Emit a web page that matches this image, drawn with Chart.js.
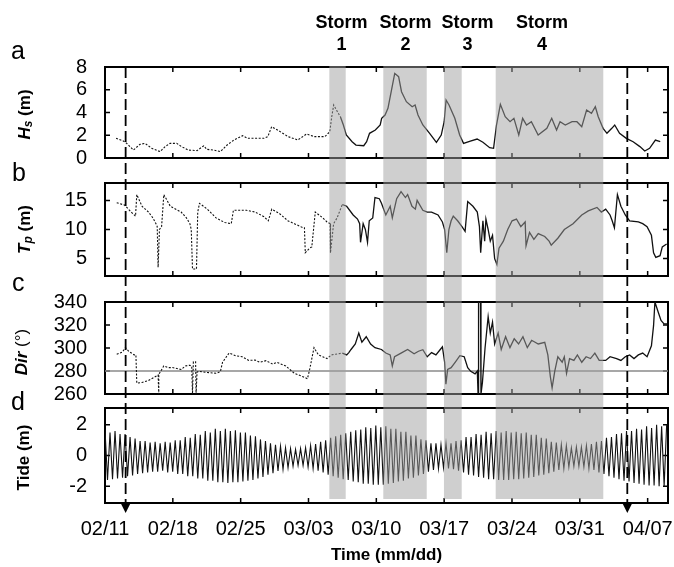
<!DOCTYPE html>
<html>
<head>
<meta charset="utf-8">
<script src="https://cdn.jsdelivr.net/npm/chart.js@4.4.1/dist/chart.umd.min.js"></script>
<style>
  html, body { margin: 0; padding: 0; background: #fff; }
  #waves { display: block; }
</style>
</head>
<body>
<canvas id="waves" width="674" height="567"></canvas>
<script>
// Wave, period, direction and tide record, 02/11 - 04/08 (time in days from 02/11)

const weekTicks = [0, 7, 14, 21, 28, 35, 42, 49, 56];
const weekLabels = ['02/11', '02/18', '02/25', '03/03', '03/10', '03/17', '03/24', '03/31', '04/07'];

const stormNames = ['1', '2', '3', '4'];
const stormStart = [23.15, 28.72, 34.98, 40.32];
const stormEnd = [24.84, 33.20, 36.81, 51.42];
const stormLabelAt = [24.4, 31.0, 37.4, 45.1];

const markerDays = [2.13, 53.9];     // dashed survey markers
const modelEnd = 24.5;               // dotted record before this day, measured after

const hsTicks = [0, 2, 4, 6, 8];
const tpTicks = [5, 10, 15];
const dirTicks = [260, 280, 300, 320, 340];
const tideTicks = [-2, 0, 2];
const dirReference = 280;

// significant wave height (m)
const hsTime = [1.14, 1.89, 2.24, 2.93, 3.61, 4.13, 4.82, 5.68, 6.2, 6.71, 7.4, 7.9, 8.6, 9.5, 10.2, 10.5,
  11.2, 11.9, 12.6, 13.3, 14.2, 14.7, 15.6, 16.4, 16.8, 17.2, 17.8, 18.9, 19.9, 20.8, 21.6, 22.7, 23.2,
  23.4, 23.6, 23.9, 24.3, 24.6, 24.9, 25.5, 25.9, 26.7, 27.0, 27.3, 27.9, 28.4, 28.55, 28.9, 29.2, 29.6,
  29.9, 30.3, 30.6, 31.1, 31.7, 32.0, 32.3, 32.8, 33.5, 34.2, 34.7, 35.0, 35.2, 35.5, 36.1, 36.6, 37.0,
  37.7, 38.4, 39.0, 39.7, 40.1, 40.4, 40.8, 41.3, 41.8, 42.2, 42.7, 43.1, 43.5, 44.0, 44.7, 45.6, 46.1,
  46.6, 46.96, 47.5, 48.2, 48.7, 49.2, 49.7, 50.2, 50.6, 50.9, 51.4, 51.8, 52.3, 52.6, 53.1, 53.8, 54.5,
  55.2, 55.7, 56.2, 56.8, 57.3];
const hsValue = [1.73, 1.49, 1.29, 0.7, 1.2, 1.29, 0.85, 0.56, 1.0, 1.29, 1.29, 1.0, 0.7, 0.65, 1.08, 0.76,
  0.7, 0.56, 1.14, 1.58, 1.96, 1.73, 1.73, 1.73, 1.88, 2.75, 2.46, 1.88, 1.58, 2.11, 1.88, 1.88, 2.31,
  3.63, 4.66, 4.2, 3.6, 2.9, 2.02, 1.43, 1.14, 1.08, 1.43, 2.17, 2.46, 2.9, 3.49, 3.78, 4.37, 6.12,
  7.44, 7.15, 5.83, 4.95, 4.51, 4.66, 3.78, 2.9, 2.17, 1.38, 2.02, 3.19, 5.1, 4.66, 3.49, 2.02, 1.29,
  1.49, 1.67, 1.38, 0.91, 0.85, 2.9, 4.72, 3.63, 3.19, 3.49, 2.02, 3.49, 2.9, 3.19, 2.02, 2.61, 3.49,
  2.46, 3.19, 2.9, 3.19, 3.19, 2.75, 4.22, 3.93, 4.51, 3.63, 2.61, 2.17, 2.61, 2.9, 2.17, 1.73, 1.43,
  1.0, 0.62, 0.85, 1.58, 1.43];

// peak period (s)
const tpTime = [1.21, 2.02, 2.7, 3.15, 3.28, 3.82, 4.49, 4.94, 5.26, 5.39, 5.48, 5.62, 5.84, 6.07, 6.74,
  7.86, 8.4, 8.76, 8.9, 9.03, 9.44, 9.57, 9.75, 10.56, 11.46, 12.36, 13.03, 13.25, 14.6, 15.5, 16.4,
  16.85, 17.21, 17.97, 18.87, 19.54, 20.44, 20.58, 20.67, 21.12, 21.34, 21.7, 22.47, 22.91, 23.23, 23.27,
  23.59, 23.95, 24.49, 24.94, 25.61, 26.06, 26.28, 26.37, 26.64, 26.87, 27.09, 27.27, 27.63, 27.86,
  28.31, 28.53, 28.98, 29.43, 29.65, 30.1, 30.55, 31.0, 31.23, 31.68, 32.03, 32.21, 32.8, 33.25, 33.7,
  34.37, 34.82, 35.05, 35.27, 35.49, 35.72, 35.94, 36.39, 36.84, 37.16, 37.43, 37.97, 38.42, 38.64,
  38.77, 39.0, 39.18, 39.31, 39.54, 39.76, 39.99, 40.21, 40.44, 40.66, 41.11, 41.56, 42.01, 42.46,
  42.91, 43.36, 43.45, 43.81, 44.26, 44.71, 45.38, 45.83, 46.05, 46.73, 47.4, 48.3, 49.2, 49.87, 50.77,
  51.22, 51.67, 52.12, 52.34, 52.57, 52.88, 53.24, 53.69, 54.14, 55.04, 55.49, 55.94, 56.39, 56.61,
  56.84, 57.28, 57.51, 57.96];
const tpValue = [14.6, 14.2, 13.0, 12.3, 16.0, 14.0, 13.0, 12.0, 11.0, 10.5, 3.5, 10.0, 10.5, 16.0, 14.0,
  13.0, 12.0, 11.0, 10.0, 3.2, 3.2, 13.0, 14.5, 13.5, 12.0, 11.2, 11.0, 13.3, 13.3, 13.0, 12.2,
  11.5, 13.5, 12.8, 11.5, 11.0, 10.3, 10.3, 6.0, 6.8, 7.0, 13.0, 12.0, 11.3, 11.0, 6.0,
  11.0, 12.0, 14.3, 14.0, 12.5, 11.8, 11.0, 7.8, 11.0, 10.0, 7.8, 11.5, 12.0, 15.5,
  15.3, 14.5, 12.5, 14.0, 12.0, 15.3, 16.5, 15.5, 16.0, 14.0, 13.5, 15.0, 13.3, 13.0, 13.0,
  12.5, 11.3, 10.0, 6.0, 10.0, 11.5, 12.3, 11.5, 10.5, 9.7, 14.8, 14.0, 13.0, 10.5,
  6.0, 11.5, 8.0, 11.8, 10.0, 8.0, 9.0, 5.0, 4.0, 6.8, 8.0, 10.0, 11.5, 11.8,
  10.5, 11.3, 7.2, 9.5, 8.3, 9.3, 8.8, 8.0, 7.3, 8.5, 10.0, 11.0, 12.5, 13.2, 13.8,
  13.0, 13.5, 12.5, 11.5, 10.3, 16.0, 14.0, 12.5, 11.5, 11.3, 11.0, 10.5, 9.0, 6.0,
  5.2, 5.5, 7.0, 7.5];

// mean wave direction (deg)
const dirTime = [1.21, 1.8, 2.11, 2.47, 3.01, 3.19, 3.28, 3.82, 4.49, 5.17, 5.48, 5.53, 5.57, 6.07, 6.51,
  6.96, 7.86, 8.31, 8.76, 8.95, 9.03, 9.12, 9.35, 9.4, 9.5, 9.66, 10.56, 11.46, 11.91, 12.13, 12.8,
  13.48, 14.15, 14.83, 15.5, 15.95, 16.62, 17.3, 17.75, 18.65, 19.54, 20.44, 20.89, 21.12, 21.57,
  22.02, 22.47, 22.91, 23.36, 23.81, 24.49, 24.94, 25.16, 25.39, 25.83, 26.19, 26.51, 26.96, 27.41,
  27.86, 28.53, 28.98, 29.43, 29.65, 29.88, 30.55, 31.23, 31.9, 32.35, 32.8, 33.25, 33.7, 34.15,
  34.6, 34.82, 35.05, 35.18, 35.36, 35.72, 36.17, 36.62, 37.07, 37.43, 37.74, 38.19, 38.42, 38.5,
  38.55, 38.75, 38.8, 38.95, 39.22, 39.54, 39.76, 39.99, 40.21, 40.57, 40.89, 41.34, 41.79, 42.23,
  42.68, 43.13, 43.58, 44.03, 44.71, 45.38, 45.7, 45.96, 46.14, 46.41, 46.73, 47.18, 47.4, 47.63,
  47.94, 48.39, 48.75, 49.2, 49.65, 50.1, 50.55, 51.0, 51.67, 52.12, 52.79, 53.24, 53.69, 54.14,
  54.59, 55.04, 55.49, 55.94, 56.39, 56.61, 56.75, 57.06, 57.38, 57.69, 58.0];
const dirValue = [294.6, 296.5, 300.3, 297, 294, 294, 269.5, 270, 271.7, 275, 276.5, 260, 277, 284.4, 282.9,
  283, 281.3, 284.4, 285, 284, 260, 288, 288, 260, 279, 279.7, 278.7, 278, 279.5, 287.6, 295.6,
  293.3, 292.4, 289.2, 289.5, 287.6, 289, 286, 287.5, 284.4, 278, 275, 273.3, 281.3, 300.3,
  294, 292.4, 290.8, 294, 294.6, 295.6, 294, 296, 298.7, 303.5, 313, 305, 309.8, 303.5,
  300.3, 298.7, 295.6, 294, 284.4, 292.4, 295.6, 298.7, 295, 297.2, 298.5, 292.4, 296, 294,
  298.7, 301, 287.6, 268.6, 281.3, 282.9, 288, 293.3, 292.4, 282.9, 279.7, 277.5, 280, 260,
  340, 340, 260, 270, 300, 327.3, 313, 322.5, 303.5, 313, 298.7, 309.8, 300.3, 308,
  303.5, 309.8, 300.3, 306.7, 303.5, 305, 294, 275, 265.4, 279.7, 292.4, 287.6, 292.4, 278,
  290.8, 289.2, 294, 287.6, 292.4, 290.8, 295.6, 289.2, 289.2, 292.4, 290.8, 289.2, 292.4, 294,
  290.8, 294, 295.6, 292.4, 301.9, 319.4, 340, 332, 324, 321, 321];

// tide: successive high and low waters (m), one tidal cycle apart
const tideStep = 0.5175;
const tideHigh = [1.7, 1.5, 1.6, 1.4, 1.4, 1.2, 1.1, 0.95, 0.95, 0.85,
  0.9, 0.8, 0.9, 0.85, 1.0, 1.0, 1.2, 1.15, 1.4, 1.35,
  1.6, 1.5, 1.75, 1.6, 1.75, 1.6, 1.65, 1.5, 1.5, 1.3,
  1.25, 1.05, 0.95, 0.8, 0.7, 0.6, 0.5, 0.45, 0.4, 0.45,
  0.5, 0.65, 0.75, 0.9, 1.0, 1.15, 1.25, 1.35, 1.45, 1.55,
  1.65, 1.7, 1.85, 1.8, 1.95, 1.85, 1.9, 1.75, 1.75, 1.55,
  1.55, 1.3, 1.3, 1.05, 1.0, 0.8, 0.8, 0.7, 0.8, 0.8,
  0.95, 1.0, 1.2, 1.2, 1.4, 1.35, 1.55, 1.45, 1.6, 1.5,
  1.6, 1.5, 1.55, 1.45, 1.5, 1.35, 1.35, 1.15, 1.1, 0.9,
  0.85, 0.7, 0.65, 0.5, 0.55, 0.55, 0.65, 0.75, 0.9, 0.95,
  1.15, 1.2, 1.4, 1.45, 1.6, 1.6, 1.75, 1.7, 1.9, 1.8,
  2.0, 1.9, 2.0];
const tideLow = [-1.6, -1.55, -1.5, -1.45, -1.35, -1.3, -1.2, -1.15, -1.1, -1.05,
  -1.05, -1.0, -1.1, -1.05, -1.2, -1.2, -1.35, -1.35, -1.5, -1.5,
  -1.65, -1.65, -1.75, -1.75, -1.8, -1.75, -1.75, -1.7, -1.65, -1.6,
  -1.5, -1.4, -1.25, -1.15, -1.0, -0.9, -0.8, -0.7, -0.65, -0.65,
  -0.75, -0.85, -1.0, -1.1, -1.25, -1.35, -1.45, -1.55, -1.6, -1.7,
  -1.75, -1.85, -1.85, -1.9, -1.9, -1.9, -1.85, -1.8, -1.7, -1.65,
  -1.5, -1.45, -1.3, -1.2, -1.05, -0.95, -0.85, -0.8, -0.85, -0.9,
  -1.0, -1.1, -1.25, -1.3, -1.4, -1.45, -1.55, -1.55, -1.6, -1.6,
  -1.6, -1.55, -1.55, -1.5, -1.45, -1.4, -1.3, -1.25, -1.15, -1.05,
  -0.95, -0.85, -0.75, -0.7, -0.7, -0.75, -0.85, -0.95, -1.1, -1.2,
  -1.35, -1.45, -1.55, -1.65, -1.7, -1.8, -1.85, -1.9, -1.95, -1.95,
  -2.0, -2.0];

const FONT = '"Liberation Sans", Arial, Helvetica, sans-serif';
Chart.defaults.font.family = FONT;
Chart.defaults.color = '#000';

function toPoints(times, values) {
  return times.map((t, i) => ({x: t, y: values[i]}));
}

const tidePoints = [];
tideHigh.forEach((h, i) => {
  tidePoints.push({x: i * tideStep, y: h});
  if (i < tideLow.length) tidePoints.push({x: (i + 0.5) * tideStep, y: tideLow[i]});
});

// dotted before the switch-over day, solid afterwards
const recordSegment = {
  borderDash: ctx => ctx.p1.parsed.x <= modelEnd ? [2, 1.6] : undefined,
  borderWidth: ctx => ctx.p1.parsed.x <= modelEnd ? 1.1 : 1.3
};

function panelAxis(min, max, ticks, weight) {
  return {
    type: 'linear',
    position: 'left',
    stack: 'panels',
    stackWeight: weight,
    min: min,
    max: max,
    afterBuildTicks: s => { s.ticks = ticks.map(v => ({value: v})); },
    afterFit: s => { s.width = 105; s.paddingTop = 0; s.paddingBottom = 0; },
    grid: {display: false, drawTicks: false},
    border: {display: false},
    ticks: {font: {size: 20}, color: '#000', padding: 18, autoSkip: false}
  };
}

function gapAxis(weight) {
  return {type: 'linear', position: 'left', stack: 'panels', stackWeight: weight, display: false};
}

const panelIds = ['yA', 'yB', 'yC', 'yD'];
const panelTicks = {yA: hsTicks, yB: tpTicks, yC: dirTicks, yD: tideTicks};

function drawVerticalTitle(ctx, parts, cx, cy) {
  ctx.save();
  ctx.translate(cx, cy);
  ctx.rotate(-Math.PI / 2);
  let total = 0;
  parts.forEach(p => { ctx.font = p.font; p.w = ctx.measureText(p.text).width; total += p.w; });
  let pos = -total / 2;
  ctx.textAlign = 'left';
  ctx.textBaseline = 'middle';
  ctx.fillStyle = '#000';
  parts.forEach(p => {
    ctx.font = p.font;
    ctx.fillText(p.text, pos, p.shift || 0);
    pos += p.w;
  });
  ctx.restore();
}

const decorations = {
  id: 'decorations',
  beforeDatasetsDraw(chart) {
    const {ctx, scales} = chart;
    const x = scales.x;
    ctx.save();
    ctx.strokeStyle = '#000';
    panelIds.forEach(id => {
      const y = scales[id];
      ctx.lineWidth = 2;
      ctx.strokeRect(x.left, y.top, x.right - x.left, y.bottom - y.top);
      ctx.lineWidth = 1.5;
      ctx.beginPath();
      weekTicks.forEach(t => {
        const px = x.getPixelForValue(t);
        ctx.moveTo(px, y.bottom); ctx.lineTo(px, y.bottom - 5);
        ctx.moveTo(px, y.top); ctx.lineTo(px, y.top + 5);
      });
      panelTicks[id].forEach(v => {
        const py = y.getPixelForValue(v);
        ctx.moveTo(x.left, py); ctx.lineTo(x.left + 5, py);
        ctx.moveTo(x.right, py); ctx.lineTo(x.right - 5, py);
      });
      ctx.stroke();
    });
    ctx.restore();
  },
  afterDatasetsDraw(chart) {
    const {ctx, scales: {x, yA, yD}} = chart;
    ctx.save();
    // storm windows, laid over every panel
    ctx.fillStyle = 'rgba(160, 160, 160, 0.5)';
    stormStart.forEach((s, i) => {
      const x0 = x.getPixelForValue(s);
      const x1 = x.getPixelForValue(stormEnd[i]);
      ctx.fillRect(x0, yA.top - 1, x1 - x0, yD.bottom - 4 - (yA.top - 1));
    });
    // dashed markers with arrow heads under the time axis
    ctx.strokeStyle = '#000';
    ctx.lineWidth = 1.8;
    ctx.setLineDash([11, 5]);
    markerDays.forEach(d => {
      const px = x.getPixelForValue(d);
      ctx.beginPath();
      ctx.moveTo(px, yA.top);
      ctx.lineTo(px, yD.bottom);
      ctx.stroke();
    });
    ctx.setLineDash([]);
    ctx.fillStyle = '#000';
    markerDays.forEach(d => {
      const px = x.getPixelForValue(d);
      ctx.beginPath();
      ctx.moveTo(px - 4.5, yD.bottom + 1);
      ctx.lineTo(px + 4.5, yD.bottom + 1);
      ctx.lineTo(px, yD.bottom + 10);
      ctx.closePath();
      ctx.fill();
    });
    ctx.restore();
  },
  afterDraw(chart) {
    const {ctx, scales} = chart;
    const x = scales.x;
    ctx.save();
    ctx.fillStyle = '#000';
    ctx.textAlign = 'center';
    ctx.textBaseline = 'middle';
    ctx.font = 'bold 18px ' + FONT;
    stormNames.forEach((n, i) => {
      const px = x.getPixelForValue(stormLabelAt[i]);
      ctx.fillText('Storm', px, 23);
      ctx.fillText(n, px, 45);
    });

    ctx.font = '25px ' + FONT;
    ctx.textAlign = 'left';
    ctx.textBaseline = 'alphabetic';
    ctx.fillText('a', 11, 59);
    ctx.fillText('b', 12, 181);
    ctx.fillText('c', 12, 291);
    ctx.fillText('d', 11, 410);
    ctx.restore();

    const mid = id => (scales[id].top + scales[id].bottom) / 2;
    const bi = 'italic bold 17px ' + FONT;
    const b = 'bold 17px ' + FONT;
    drawVerticalTitle(ctx, [
      {text: 'H', font: bi},
      {text: 's', font: 'italic bold 12px ' + FONT, shift: 4},
      {text: ' (m)', font: b}
    ], 25, mid('yA') + 2);
    drawVerticalTitle(ctx, [
      {text: 'T', font: bi},
      {text: 'p', font: 'italic bold 12px ' + FONT, shift: 4},
      {text: ' (m)', font: b}
    ], 25, mid('yB'));
    drawVerticalTitle(ctx, [
      {text: 'Dir', font: bi},
      {text: ' (\u00b0)', font: '17px ' + FONT}
    ], 22, mid('yC') + 4);
    drawVerticalTitle(ctx, [
      {text: 'Tide (m)', font: b}
    ], 24, mid('yD') + 2);
  }
};

const lineStyle = {
  parsing: true,
  pointRadius: 0,
  borderColor: '#111',
  borderWidth: 1.3,
  tension: 0,
  fill: false
};

new Chart(document.getElementById('waves'), {
  type: 'line',
  data: {
    datasets: [
      Object.assign({label: 'Hs', data: toPoints(hsTime, hsValue), yAxisID: 'yA', segment: recordSegment}, lineStyle),
      Object.assign({label: 'Tp', data: toPoints(tpTime, tpValue), yAxisID: 'yB', segment: recordSegment}, lineStyle),
      Object.assign({label: 'Dir', data: toPoints(dirTime, dirValue), yAxisID: 'yC', segment: recordSegment}, lineStyle),
      Object.assign({}, lineStyle, {label: 'Tide', data: tidePoints, yAxisID: 'yD', borderWidth: 1.1}),
      Object.assign({}, lineStyle, {
        label: 'Reference',
        data: [{x: 0, y: dirReference}, {x: 58.1, y: dirReference}],
        yAxisID: 'yC',
        borderColor: '#8a8a8a',
        borderWidth: 1.5
      })
    ]
  },
  options: {
    responsive: false,
    animation: false,
    devicePixelRatio: 1,
    layout: {padding: {top: 67, right: 6, bottom: 0, left: 0}},
    plugins: {legend: {display: false}, tooltip: {enabled: false}},
    scales: {
      x: {
        type: 'linear',
        min: 0,
        max: 58.1,
        afterBuildTicks: s => { s.ticks = weekTicks.map(v => ({value: v})); },
        afterFit: s => { s.height = 64; s.paddingLeft = 0; s.paddingRight = 0; },
        grid: {display: false, drawTicks: false},
        border: {display: false},
        ticks: {
          autoSkip: false,
          maxRotation: 0,
          padding: 14,
          font: {size: 20},
          color: '#000',
          callback: (value, index) => weekLabels[index]
        },
        title: {
          display: true,
          text: 'Time (mm/dd)',
          color: '#000',
          font: {size: 17, weight: 'bold'},
          padding: {top: 0, bottom: 1}
        }
      },
      // stacked panels: the axis listed last sits on top
      yD: panelAxis(-3.1, 3.1, tideTicks, 95),
      g3: gapAxis(14),
      yC: panelAxis(260, 340, dirTicks, 92),
      g2: gapAxis(26),
      yB: panelAxis(2, 18, tpTicks, 93),
      g1: gapAxis(25),
      yA: panelAxis(0, 8, hsTicks, 91)
    }
  },
  plugins: [decorations]
});
</script>
</body>
</html>
